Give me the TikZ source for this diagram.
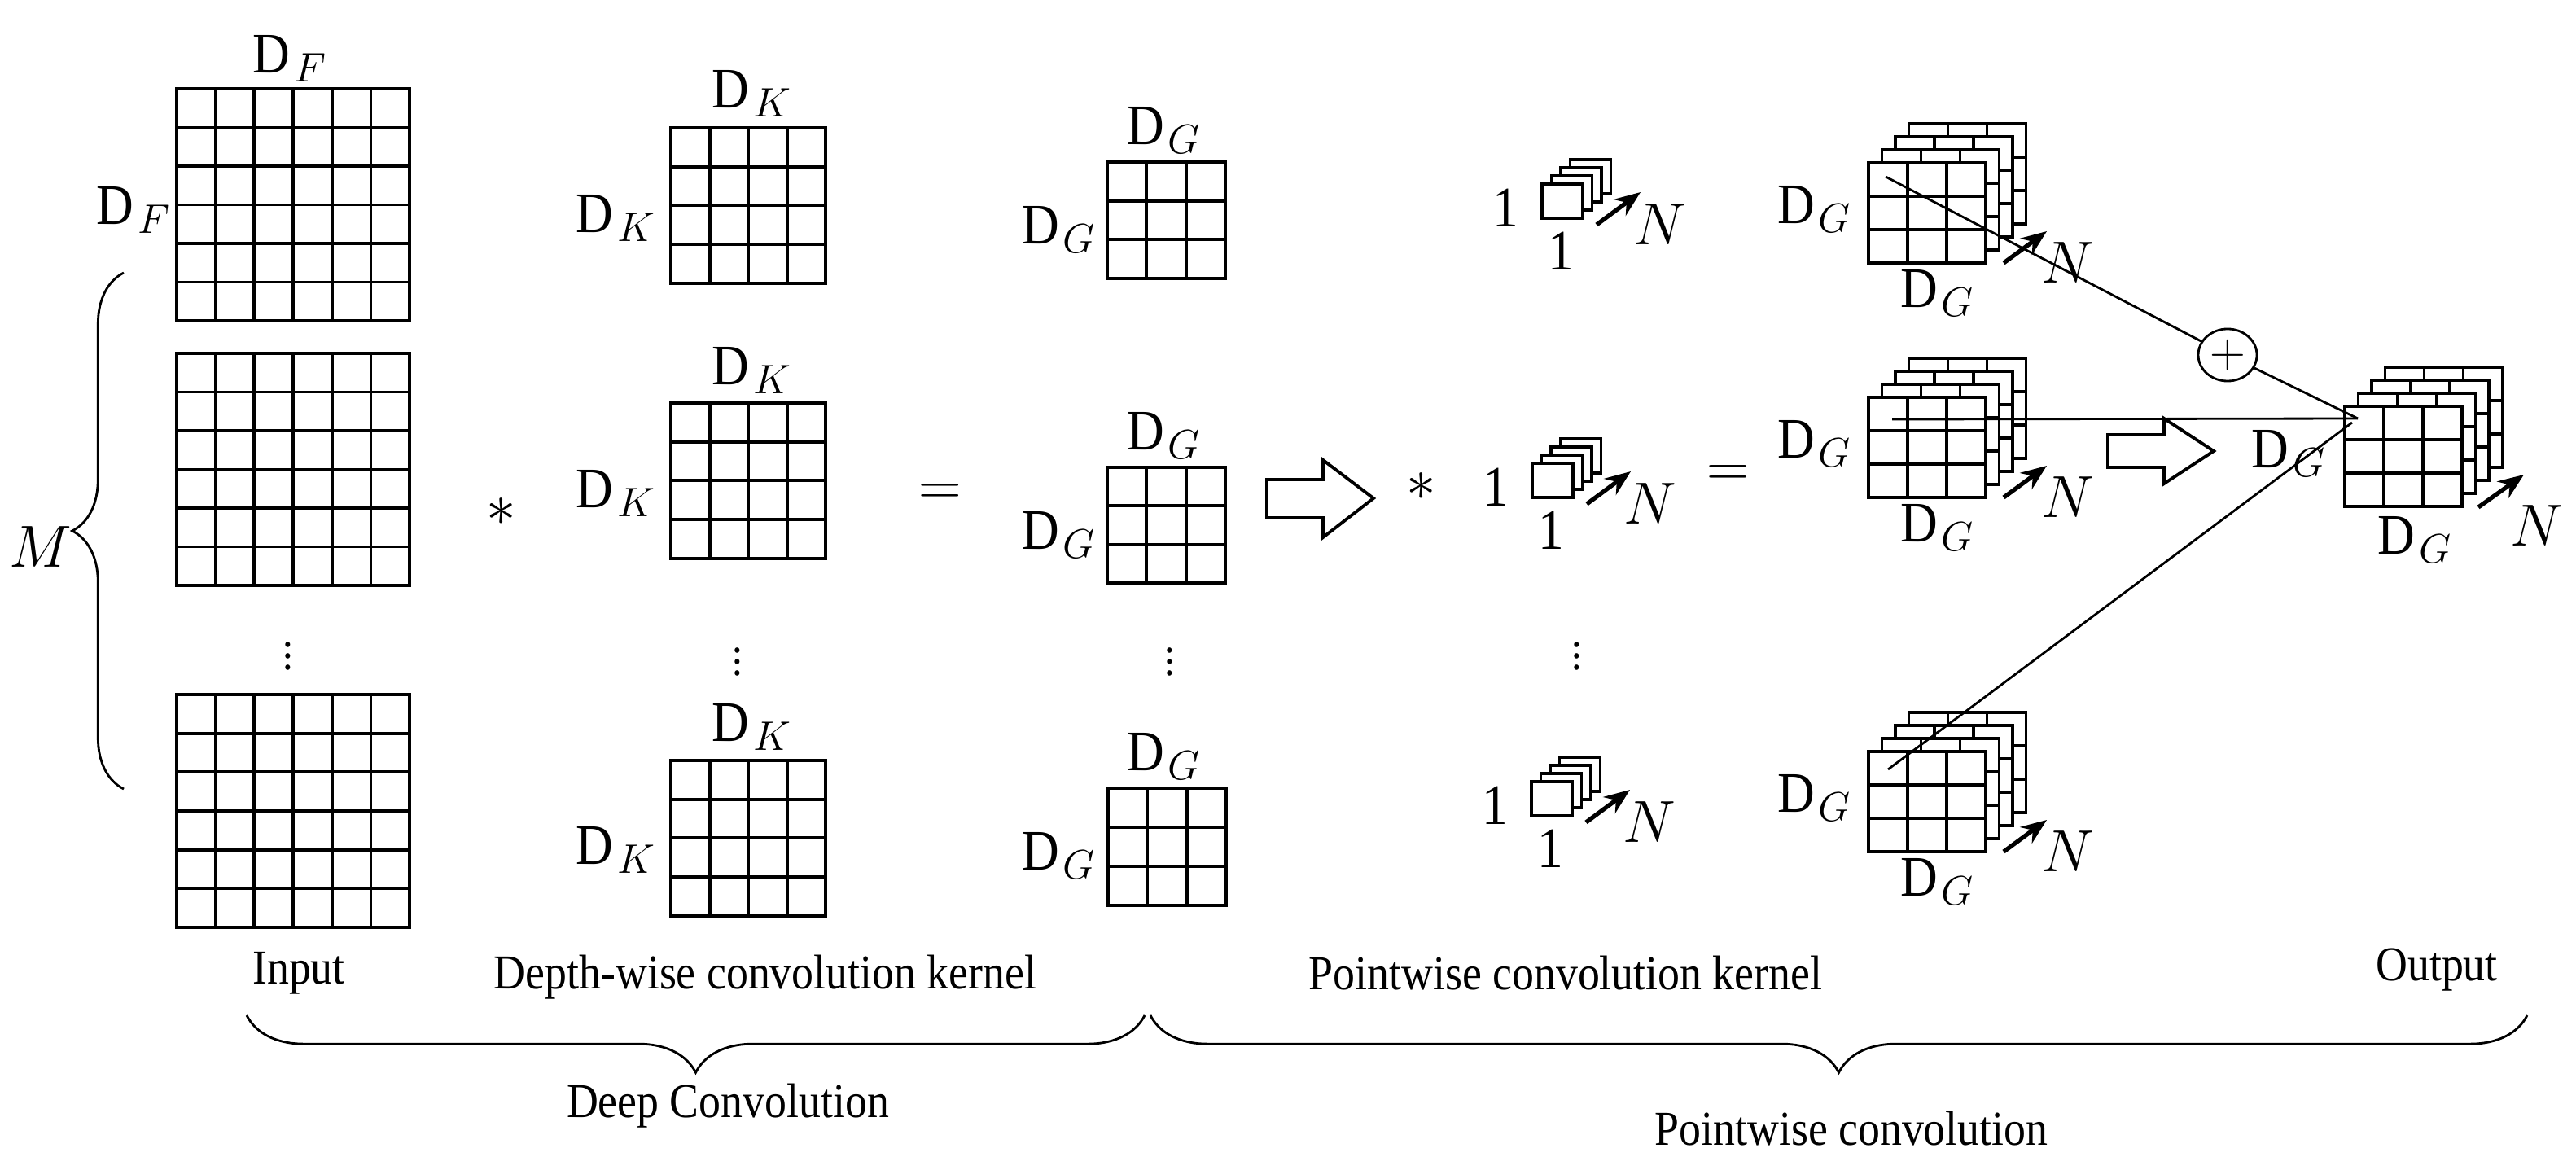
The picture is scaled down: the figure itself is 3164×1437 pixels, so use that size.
\documentclass[tikz,border=0pt]{standalone}
\usepackage{fontspec}
\setmainfont{Liberation Serif}[FakeStretch=0.9]
\usetikzlibrary{decorations.pathreplacing,shapes.geometric,arrows.meta}
\newcommand\gbox[6]{%
 \pgfmathsetmacro\gx{#1}\pgfmathsetmacro\gy{#2}%
 \filldraw[fill=white,grid] (\gx,-\gy) rectangle ({\gx+#3*#5},{-\gy-#4*#6});
 \pgfmathtruncatemacro\gc{#3-1}\pgfmathtruncatemacro\gr{#4-1}%
 \foreach \i in {1,...,\gc}{\draw[grid] ({\gx+\i*#5},-\gy) -- ++(0,{-#4*#6});}
 \foreach \j in {1,...,\gr}{\draw[grid] (\gx,{-\gy-\j*#6}) -- ++({#3*#5},0);}
}
\newcommand\stk[2]{\foreach \k in {3,2,1,0}{\gbox{#1+16.5*\k}{#2-16*\k}{3}{3}{48}{41}}}
\newcommand\kst[2]{\foreach \k in {3,2,1,0}{\filldraw[fill=white,grid] ({#1+11.5*\k},{-(#2-10*\k)}) rectangle ++(50,-42);}}
\begin{document}
\begin{tikzpicture}[x=0.01cm,y=0.01cm,
  grid/.style={line width=1.1pt},
  lab/.style={inner sep=0pt,font=\fontsize{20}{24}\selectfont},
  dots/.style={inner sep=0pt,font=\fontsize{16}{18}\selectfont},
  txt/.style={inner sep=0pt,font=\fontsize{17}{20}\selectfont},
  con/.style={line width=0.8pt},
  narr/.style={line width=1.5pt,-{Stealth[length=9pt,width=7pt]}},
  hol/.style={line width=1.1pt,fill=white}]
\useasboundingbox (0,0) rectangle (3164,-1437);
% input
\gbox{217}{109}{6}{6}{47.7}{47.5}
\gbox{217}{434}{6}{6}{47.7}{47.5}
\gbox{217}{853}{6}{6}{47.7}{47.7}
\node[lab] (df1) at (356,-72) {$\mathrm{D}_F$};
\node[lab] (df2) at (164,-258) {$\mathrm{D}_F$};
\draw[decorate,decoration={brace,amplitude=18pt},line width=0.8pt] (152,-969) -- (152,-335);
\node[lab] (m) at (50,-672) {$M$};
\node[dots] (d1) at (354,-795) {$\vdots$};
\node[lab] (ast1) at (616,-629) {$*$};
% depthwise kernels
\gbox{824}{157}{4}{4}{47.6}{47.7}
\gbox{824}{495}{4}{4}{47.6}{47.7}
\gbox{824}{934}{4}{4}{47.6}{47.7}
\node[lab] (k1t) at (924,-115) {$\mathrm{D}_K$};
\node[lab] (k1l) at (757,-268) {$\mathrm{D}_K$};
\node[lab] (k2t) at (924,-455) {$\mathrm{D}_K$};
\node[lab] (k2l) at (757,-606) {$\mathrm{D}_K$};
\node[lab] (k3t) at (924,-893) {$\mathrm{D}_K$};
\node[lab] (k3l) at (757,-1044) {$\mathrm{D}_K$};
\node[dots] (d2) at (906,-802) {$\vdots$};
\node[lab] (eq1) at (1155,-608) {$=$};
% DG
\gbox{1360}{199}{3}{3}{48.3}{47.7}
\gbox{1360}{574}{3}{3}{48.3}{47.3}
\gbox{1361}{968}{3}{3}{48.3}{48}
\node[lab] (g1t) at (1430,-160) {$\mathrm{D}_G$};
\node[lab] (g1l) at (1301,-282) {$\mathrm{D}_G$};
\node[lab] (g2t) at (1430,-535) {$\mathrm{D}_G$};
\node[lab] (g2l) at (1301,-657) {$\mathrm{D}_G$};
\node[lab] (g3t) at (1430,-929) {$\mathrm{D}_G$};
\node[lab] (g3l) at (1301,-1051) {$\mathrm{D}_G$};
\node[dots] (d3) at (1437,-802) {$\vdots$};
\draw[hol] (1556,-589) -- (1625,-589) -- (1625,-565) -- (1687,-612) -- (1625,-660) -- (1625,-636) -- (1556,-636) -- cycle;
\node[lab] (ast2) at (1746,-598) {$*$};
% pointwise kernels
\foreach \nm/\fx/\fy in {p1/1894/226,p2/1882/569,p3/1881/960}{
  \kst{\fx}{\fy}
  \node[lab] (\nm a) at (\fx-45,-\fy-29) {1};
  \node[lab] (\nm b) at (\fx+23,-\fy-82) {1};
  \coordinate (\nm s) at (\fx+67,-\fy-50);
  \coordinate (\nm e) at (\fx+121,-\fy-10);
  \draw[narr] (\nm s) -- (\nm e);
  \node[lab] (\nm n) at (\fx+145,-\fy-50) {$N$};
}
\node[dots] (d4) at (1937,-795) {$\vdots$};
\node[lab] (eq2) at (2123,-585) {$=$};
% stacks
\foreach \nm/\ty in {s1/200,s2/488,s3/923}{
  \stk{2295}{\ty}
  \node[lab] (\nm l) at (2229,-\ty-57) {$\mathrm{D}_G$};
  \node[lab] (\nm b) at (2380,-\ty-160) {$\mathrm{D}_G$};
  \coordinate (\nm s) at (2461,-\ty-123);
  \coordinate (\nm e) at (2514,-\ty-84);
  \draw[narr] (\nm s) -- (\nm e);
  \node[lab] (\nm n) at (2540,-\ty-123) {$N$};
}
\draw[hol] (2589,-534) -- (2658,-534) -- (2658,-514) -- (2719,-554) -- (2658,-594) -- (2658,-574) -- (2589,-574) -- cycle;
% output
\stk{2880}{499}
\node[lab] (ol) at (2811,-557) {$\mathrm{D}_G$};
\node[lab] (ob) at (2966,-663) {$\mathrm{D}_G$};
\coordinate (os) at (3044,-623);
\coordinate (oe) at (3100,-583);
\draw[narr] (os) -- (oe);
\node[lab] (on) at (3116,-646) {$N$};
% connectors
\coordinate (c1) at (2316,-217);
\coordinate (c2) at (2324,-515);
\coordinate (c3) at (2319,-945);
\coordinate (oc) at (2896,-514);
\coordinate (oc3) at (2889,-519);
\node[ellipse,draw,line width=0.8pt,fill=white,minimum width=0.72cm,minimum height=0.64cm,inner sep=0pt,font=\fontsize{18}{20}\selectfont] (plus) at (2736,-436) {$+$};
\draw[con] (c1) -- (plus) -- (oc);
\draw[con] (c2) -- (oc);
\draw[con] (c3) -- (oc3);
% bottom
\node[txt] (tin) at (367,-1195) {Input};
\node[txt] (tdw) at (940,-1200) {Depth-wise convolution kernel};
\node[txt] (tpw) at (1923,-1195) {Pointwise convolution kernel};
\node[txt] (tout) at (2993,-1191) {Output};
\draw[decorate,decoration={brace,mirror,amplitude=20pt},line width=0.8pt] (303,-1247) -- (1406,-1247);
\draw[decorate,decoration={brace,mirror,amplitude=20pt},line width=0.8pt] (1413,-1247) -- (3104,-1247);
\node[txt] (tdc) at (894,-1358) {Deep Convolution};
\node[txt] (tpc) at (2274,-1386) {Pointwise convolution};
\end{tikzpicture}
\end{document}
